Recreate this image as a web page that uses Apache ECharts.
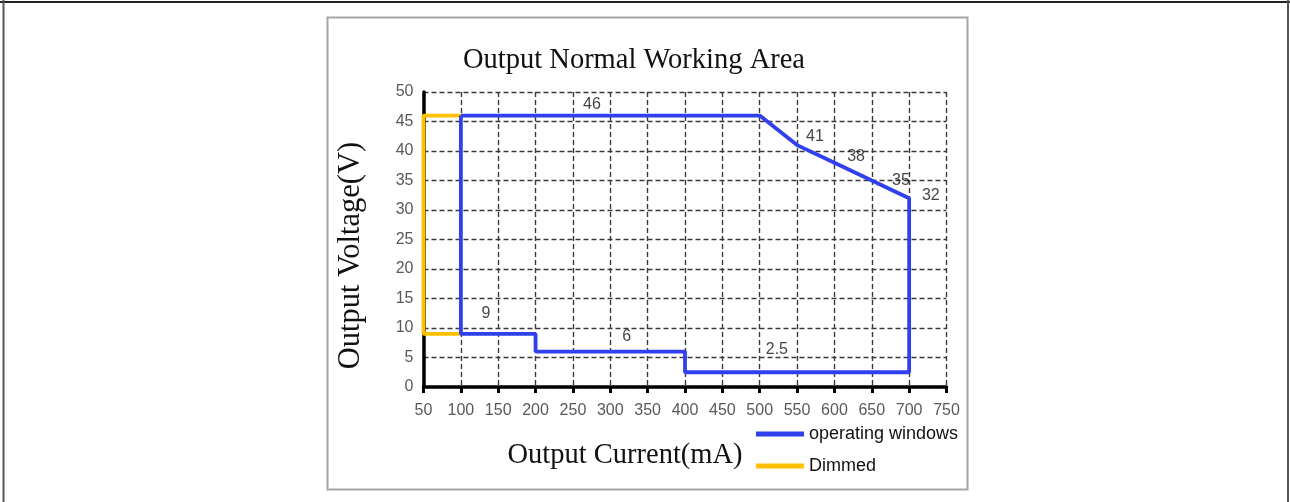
<!DOCTYPE html>
<html>
<head>
<meta charset="utf-8">
<script src="https://cdn.jsdelivr.net/npm/echarts@6/dist/echarts.min.js"></script>
<style>html,body{margin:0;padding:0;background:#fff}#c{width:1290px;height:502px}</style>
</head>
<body>
<div id="c"></div>
<script>
// Data
var operatingX = [100, 500, 550, 600, 650, 700, 700, 400, 400, 200, 200, 100, 100];
var operatingY = [46, 46, 41, 38, 35, 32, 2.5, 2.5, 6, 6, 9, 9, 46];
var dimmedX = [100, 50, 50, 100];
var dimmedY = [46, 46, 9, 9];
var labelText = ['46', '41', '38', '35', '32', '9', '6', '2.5'];
var labelX = [275.5, 574, 629, 689, 729, 133.6, 322, 523];
var labelY = [47.8, 42.5, 39.0, 34.9, 32.4, 12.4, 8.5, 6.4];
var xTicks = [50, 100, 150, 200, 250, 300, 350, 400, 450, 500, 550, 600, 650, 700, 750];
var yTicks = [0, 5, 10, 15, 20, 25, 30, 35, 40, 45, 50];

function zip(a, b) { return a.map(function (v, i) { return [v, b[i]]; }); }

var chart = echarts.init(document.getElementById('c'), null, {renderer: 'canvas'});
var serif = '"Liberation Serif", "DejaVu Serif", serif';
var sans = '"Liberation Sans", Arial, sans-serif';
var dash = {type: [5, 3], color: '#3a3a3a', width: 1.4};

chart.setOption({
  animation: false,
  backgroundColor: '#fff',
  title: {
    text: 'Output Normal Working Area',
    left: 629, top: 41, textAlign: 'center',
    textStyle: {fontFamily: serif, fontWeight: 'normal', fontSize: 28.5, color: '#111'}
  },
  legend: {
    orient: 'vertical', left: 751, top: 420, itemGap: 14,
    itemWidth: 48, itemHeight: 5, icon: 'rect',
    textStyle: {fontFamily: sans, fontSize: 18, color: '#111'},
    data: ['operating windows', 'Dimmed']
  },
  grid: {left: 423.5, top: 92, width: 523, height: 295, containLabel: false},
  xAxis: {
    type: 'value', min: xTicks[0], max: xTicks[xTicks.length - 1], interval: 50,
    name: 'Output Current(mA)', nameLocation: 'middle', nameGap: 54,
    nameTextStyle: {fontFamily: serif, fontSize: 28.5, color: '#111', padding: [0, 120, 0, 0]},
    axisLine: {show: true, lineStyle: {color: '#000', width: 3.5}},
    axisTick: {show: true, length: 6, lineStyle: {color: '#000', width: 3}},
    axisLabel: {color: '#595959', fontFamily: sans, fontSize: 16, margin: 16},
    splitLine: {show: true, lineStyle: dash}
  },
  yAxis: {
    type: 'value', min: yTicks[0], max: yTicks[yTicks.length - 1], interval: 5,
    name: 'Output Voltage(V)', nameLocation: 'middle', nameGap: 57,
    nameTextStyle: {fontFamily: serif, fontSize: 30.5, color: '#111', padding: [0, 32, 0, 0]},
    axisLine: {show: true, lineStyle: {color: '#000', width: 3.5}},
    axisTick: {show: false},
    axisLabel: {color: '#595959', fontFamily: sans, fontSize: 16, margin: 10},
    splitLine: {show: true, lineStyle: dash}
  },
  graphic: [
    {type: 'rect', shape: {x: 327.5, y: 17.5, width: 640, height: 472}, style: {fill: 'none', stroke: '#a6a6a6', lineWidth: 2}, z: -1},
    {type: 'line', shape: {x1: 0, y1: 2, x2: 1290, y2: 2}, style: {stroke: '#222', lineWidth: 2}},
    {type: 'line', shape: {x1: 3.5, y1: 0, x2: 3.5, y2: 502}, style: {stroke: '#555', lineWidth: 2}},
    {type: 'line', shape: {x1: 1288, y1: 0, x2: 1288, y2: 502}, style: {stroke: '#555', lineWidth: 2}}
  ],
  series: [
    {
      name: 'operating windows', type: 'line', data: zip(operatingX, operatingY),
      showSymbol: false, symbol: 'none', lineStyle: {color: '#3040ee', width: 3.8},
      itemStyle: {color: '#3040ee'}, z: 3
    },
    {
      name: 'Dimmed', type: 'line', data: zip(dimmedX, dimmedY),
      showSymbol: false, symbol: 'none', lineStyle: {color: '#ffc000', width: 3.8},
      itemStyle: {color: '#ffc000'}, z: 2
    },
    {
      name: 'labels', type: 'scatter', symbolSize: 0, silent: true, z: 5,
      data: labelX.map(function (x, i) { return {value: [x, labelY[i]], name: labelText[i]}; }),
      label: {show: true, position: 'inside', formatter: function (p) { return p.name; },
        color: '#111', fontFamily: sans, fontSize: 16}
    }
  ]
});
</script>
</body>
</html>
